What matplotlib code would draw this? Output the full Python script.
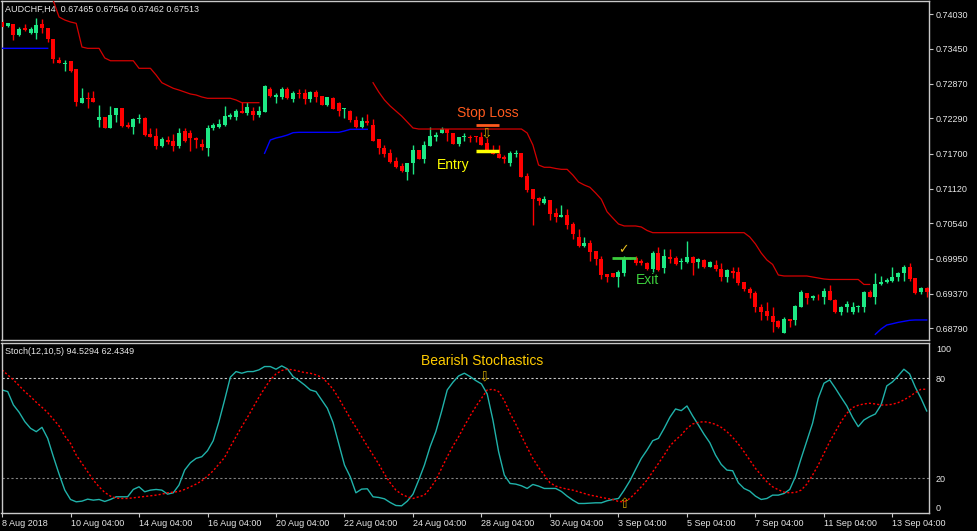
import numpy as np
import matplotlib
matplotlib.use("Agg")
import matplotlib.pyplot as plt

plt.rcParams['font.family'] = ['Liberation Sans', 'DejaVu Sans']

nan = np.nan

# AUDCHF H4 candles (bar 0 = 8 Aug 2018 04:00)
opens = [
    0.73897, 0.73838, 0.73863, 0.73680, 0.73792, 0.73713, 0.73713, 0.73863, 0.73800, 0.73613,
    0.73263, 0.73197, 0.73251, 0.73108, 0.72552, 0.72635, 0.72635, 0.72263, 0.72318, 0.72125,
    0.72347, 0.72458, 0.72180, 0.72151, 0.72275, 0.72292, 0.72030, 0.71997, 0.71830, 0.71930,
    0.71913, 0.71830, 0.72080, 0.72052, 0.71968, 0.71863, 0.71801, 0.72125, 0.72151, 0.72180,
    0.72308, 0.72318, 0.72413, 0.72385, 0.72413, 0.72347, 0.72402, 0.72785, 0.72652, 0.72652,
    0.72785, 0.72608, 0.72718, 0.72708, 0.72608, 0.72735, 0.72668, 0.72513, 0.72635, 0.72541,
    0.72442, 0.72418, 0.72263, 0.72142, 0.72247, 0.72180, 0.71942, 0.71792, 0.71721, 0.71585,
    0.71501, 0.71401, 0.71541, 0.71763, 0.71613, 0.71835, 0.71985, 0.72052, 0.72108, 0.72052,
    0.71863, 0.71975, 0.71985, 0.71997, 0.71985, 0.71875, 0.71751, 0.71697, 0.71641, 0.71551,
    0.71697, 0.71721, 0.71330, 0.71108, 0.70968, 0.70885, 0.70930, 0.70718, 0.70651, 0.70680,
    0.70530, 0.70308, 0.70163, 0.70218, 0.70085, 0.69942, 0.69697, 0.69708, 0.69642, 0.69718,
    0.69958, 0.69958, 0.69913, 0.69885, 0.69775, 0.70040, 0.69790, 0.69975, 0.69958, 0.69897,
    0.69901, 0.69985, 0.69901, 0.69930, 0.69818, 0.69847, 0.69775, 0.69642, 0.69747, 0.69735,
    0.69555, 0.69442, 0.69385, 0.69151, 0.69080, 0.68997, 0.68913, 0.68718, 0.68942, 0.68930,
    0.69151, 0.69385, 0.69292, 0.69330, 0.69318, 0.69413, 0.69263, 0.69068, 0.69151, 0.69068,
    0.69140, 0.69151, 0.69401, 0.69318, 0.69525, 0.69555, 0.69580, 0.69651, 0.69708, 0.69808,
    0.69625, 0.69401, 0.69458,
]
highs = [
    0.73942, 0.73885, 0.73863, 0.73813, 0.73863, 0.73808, 0.73958, 0.73947, 0.73800, 0.73613,
    0.73308, 0.73263, 0.73251, 0.73118, 0.72792, 0.72735, 0.72752, 0.72513, 0.72318, 0.72497,
    0.72468, 0.72458, 0.72235, 0.72292, 0.72363, 0.72318, 0.72125, 0.72125, 0.71985, 0.71997,
    0.72030, 0.72125, 0.72135, 0.72097, 0.71985, 0.71942, 0.72180, 0.72218, 0.72280, 0.72497,
    0.72385, 0.72452, 0.72568, 0.72568, 0.72485, 0.72497, 0.72842, 0.72808, 0.72708, 0.72818,
    0.72808, 0.72752, 0.72775, 0.72775, 0.72752, 0.72763, 0.72668, 0.72652, 0.72652, 0.72563,
    0.72458, 0.72430, 0.72330, 0.72318, 0.72363, 0.72275, 0.71942, 0.71847, 0.71775, 0.71651,
    0.71541, 0.71541, 0.71847, 0.71763, 0.71918, 0.72151, 0.72068, 0.72151, 0.72108, 0.72052,
    0.71985, 0.72052, 0.72013, 0.71997, 0.72068, 0.71958, 0.71847, 0.71847, 0.71680, 0.71751,
    0.71763, 0.71721, 0.71385, 0.71108, 0.70985, 0.70997, 0.70930, 0.70791, 0.70847, 0.70775,
    0.70568, 0.70442, 0.70308, 0.70263, 0.70085, 0.69997, 0.69697, 0.69708, 0.69763, 0.69997,
    0.69980, 0.69997, 0.69942, 0.69897, 0.70080, 0.70151, 0.70118, 0.70118, 0.69997, 0.69967,
    0.70247, 0.69997, 0.69958, 0.69951, 0.69918, 0.69930, 0.69885, 0.69775, 0.69818, 0.69818,
    0.69555, 0.69485, 0.69413, 0.69197, 0.69235, 0.69151, 0.68930, 0.68985, 0.68942, 0.69180,
    0.69430, 0.69385, 0.69347, 0.69363, 0.69458, 0.69513, 0.69275, 0.69163, 0.69251, 0.69235,
    0.69180, 0.69418, 0.69430, 0.69708, 0.69663, 0.69625, 0.69808, 0.69735, 0.69847, 0.69875,
    0.69625, 0.69485, 0.69485,
]
lows = [
    0.73805, 0.73818, 0.73597, 0.73663, 0.73751, 0.73697, 0.73608, 0.73708, 0.73568, 0.73208,
    0.73208, 0.73080, 0.73068, 0.72497, 0.72552, 0.72458, 0.72568, 0.72151, 0.72125, 0.72125,
    0.72235, 0.72151, 0.72125, 0.72025, 0.72218, 0.71997, 0.71975, 0.71775, 0.71818, 0.71863,
    0.71747, 0.71792, 0.71902, 0.71751, 0.71792, 0.71763, 0.71663, 0.72097, 0.72135, 0.72163,
    0.72285, 0.72263, 0.72385, 0.72347, 0.72263, 0.72318, 0.72402, 0.72642, 0.72541, 0.72608,
    0.72608, 0.72568, 0.72625, 0.72530, 0.72568, 0.72568, 0.72513, 0.72502, 0.72447, 0.72330,
    0.72292, 0.72235, 0.72125, 0.72125, 0.72180, 0.71918, 0.71697, 0.71651, 0.71541, 0.71468,
    0.71401, 0.71263, 0.71363, 0.71613, 0.71541, 0.71835, 0.71918, 0.72041, 0.71918, 0.71863,
    0.71835, 0.71918, 0.71902, 0.71902, 0.71847, 0.71751, 0.71691, 0.71625, 0.71541, 0.71497,
    0.71641, 0.71318, 0.71068, 0.70513, 0.70847, 0.70863, 0.70597, 0.70568, 0.70651, 0.70442,
    0.70275, 0.70151, 0.70142, 0.69918, 0.69843, 0.69605, 0.69555, 0.69642, 0.69485, 0.69663,
    0.69940, 0.69847, 0.69847, 0.69763, 0.69735, 0.69751, 0.69718, 0.69875, 0.69847, 0.69780,
    0.69875, 0.69680, 0.69790, 0.69790, 0.69808, 0.69751, 0.69585, 0.69555, 0.69625, 0.69513,
    0.69413, 0.69292, 0.69068, 0.68930, 0.68930, 0.68735, 0.68792, 0.68708, 0.68818, 0.68847,
    0.69151, 0.69197, 0.69263, 0.69263, 0.69197, 0.69263, 0.69042, 0.69013, 0.69068, 0.69030,
    0.69068, 0.69068, 0.69308, 0.69197, 0.69513, 0.69542, 0.69555, 0.69572, 0.69572, 0.69572,
    0.69363, 0.69363, 0.69308,
]
closes = [
    0.73813, 0.73872, 0.73685, 0.73780, 0.73763, 0.73775, 0.73842, 0.73792, 0.73608, 0.73280,
    0.73218, 0.73218, 0.73080, 0.72568, 0.72635, 0.72613, 0.72568, 0.72318, 0.72125, 0.72347,
    0.72468, 0.72163, 0.72142, 0.72275, 0.72302, 0.72013, 0.71985, 0.71830, 0.71942, 0.71902,
    0.71830, 0.72052, 0.71918, 0.71968, 0.71930, 0.71818, 0.72135, 0.72180, 0.72192, 0.72330,
    0.72342, 0.72418, 0.72385, 0.72485, 0.72347, 0.72413, 0.72830, 0.72663, 0.72680, 0.72780,
    0.72625, 0.72708, 0.72697, 0.72613, 0.72735, 0.72652, 0.72513, 0.72642, 0.72447, 0.72413,
    0.72458, 0.72263, 0.72142, 0.72247, 0.72208, 0.71918, 0.71792, 0.71697, 0.71558, 0.71485,
    0.71413, 0.71541, 0.71763, 0.71613, 0.71847, 0.71997, 0.72018, 0.72108, 0.72041, 0.71863,
    0.71985, 0.71997, 0.71958, 0.71975, 0.71847, 0.71763, 0.71691, 0.71625, 0.71608, 0.71708,
    0.71721, 0.71318, 0.71097, 0.70942, 0.70918, 0.70942, 0.70697, 0.70651, 0.70680, 0.70513,
    0.70363, 0.70163, 0.70218, 0.70068, 0.69942, 0.69680, 0.69651, 0.69642, 0.69735, 0.69958,
    0.69965, 0.69875, 0.69875, 0.69775, 0.70051, 0.69763, 0.69997, 0.69942, 0.69858, 0.69908,
    0.69985, 0.69885, 0.69942, 0.69818, 0.69901, 0.69775, 0.69642, 0.69763, 0.69718, 0.69542,
    0.69442, 0.69375, 0.69151, 0.69068, 0.68997, 0.68902, 0.68808, 0.68942, 0.68918, 0.69163,
    0.69401, 0.69292, 0.69335, 0.69325, 0.69418, 0.69263, 0.69068, 0.69151, 0.69190, 0.69151,
    0.69163, 0.69401, 0.69318, 0.69530, 0.69555, 0.69597, 0.69651, 0.69708, 0.69808, 0.69605,
    0.69375, 0.69458, 0.69401,
]

# trailing stop: red above price (down trend), blue below price (up trend)
stop_upper = [
    nan, nan, nan, nan, nan, nan, nan, nan, nan, 0.74247,
    0.73980, 0.73930, 0.73897, 0.73875, 0.73480, 0.73458, 0.73458, 0.73458, 0.73297, 0.73251,
    0.73251, 0.73251, 0.73251, 0.73251, 0.73125, 0.73125, 0.73125, 0.73013, 0.72885, 0.72838,
    0.72792, 0.72763, 0.72730, 0.72697, 0.72680, 0.72647, 0.72625, 0.72625, 0.72625, 0.72625,
    0.72625, 0.72597, 0.72552, 0.72552, 0.72552, 0.72552, nan, nan, nan, nan,
    nan, nan, nan, nan, nan, nan, nan, nan, nan, nan,
    nan, nan, nan, nan, nan, 0.72885, 0.72730, 0.72597, 0.72497, 0.72413,
    0.72330, 0.72230, 0.72130, 0.72113, 0.72113, 0.72113, 0.72113, 0.72113, 0.72113, 0.72113,
    0.72113, 0.72113, 0.72113, 0.72113, 0.72113, 0.72113, 0.72113, 0.72113, 0.72113, 0.72113,
    0.72113, 0.72113, 0.72047, 0.71847, 0.71513, 0.71475, 0.71475, 0.71455, 0.71441, 0.71441,
    0.71346, 0.71230, 0.71180, 0.71141, 0.71046, 0.70941, 0.70734, 0.70630, 0.70530, 0.70497,
    0.70497, 0.70497, 0.70480, 0.70422, 0.70385, 0.70385, 0.70385, 0.70385, 0.70385, 0.70385,
    0.70385, 0.70385, 0.70385, 0.70385, 0.70385, 0.70385, 0.70385, 0.70385, 0.70385, 0.70385,
    0.70385, 0.70313, 0.70197, 0.70047, 0.69930, 0.69856, 0.69680, 0.69663, 0.69663, 0.69663,
    0.69663, 0.69663, 0.69646, 0.69630, 0.69613, 0.69605, 0.69605, 0.69605, 0.69605, 0.69605,
    0.69605, 0.69522, 0.69522, nan, nan, nan, nan, nan, nan, nan,
    nan, nan, nan,
]
stop_lower = [
    0.73458, 0.73458, 0.73458, 0.73458, 0.73458, 0.73458, 0.73458, 0.73458, 0.73458, nan,
    nan, nan, nan, nan, nan, nan, nan, nan, nan, nan,
    nan, nan, nan, nan, nan, nan, nan, nan, nan, nan,
    nan, nan, nan, nan, nan, nan, nan, nan, nan, nan,
    nan, nan, nan, nan, nan, nan, 0.71708, 0.71930, 0.71963, 0.71985,
    0.72013, 0.72052, 0.72058, 0.72058, 0.72058, 0.72058, 0.72058, 0.72058, 0.72058, 0.72058,
    0.72080, 0.72108, 0.72108, 0.72108, 0.72108, nan, nan, nan, nan, nan,
    nan, nan, nan, nan, nan, nan, nan, nan, nan, nan,
    nan, nan, nan, nan, nan, nan, nan, nan, nan, nan,
    nan, nan, nan, nan, nan, nan, nan, nan, nan, nan,
    nan, nan, nan, nan, nan, nan, nan, nan, nan, nan,
    nan, nan, nan, nan, nan, nan, nan, nan, nan, nan,
    nan, nan, nan, nan, nan, nan, nan, nan, nan, nan,
    nan, nan, nan, nan, nan, nan, nan, nan, nan, nan,
    nan, nan, nan, nan, nan, nan, nan, nan, nan, nan,
    nan, nan, nan, 0.68691, 0.68779, 0.68846, 0.68867, 0.68890, 0.68907, 0.68924,
    0.68930, 0.68930, 0.68930,
]

# Stoch(12,10,5)
stoch_main = [
    72.9, 71.9, 63.9, 59.5, 53.9, 49.9, 47.9, 50.5, 43.9, 32.9,
    22.5, 12.9, 7.3, 5.9, 6.3, 7.5, 6.9, 7.3, 6.1, 7.3,
    8.9, 8.9, 8.9, 13.3, 14.9, 11.9, 12.9, 13.3, 12.9, 10.5,
    11.3, 15.9, 24.9, 29.3, 31.9, 32.9, 36.5, 42.5, 53.9, 66.9,
    80.5, 83.9, 82.9, 83.9, 83.9, 84.9, 86.9, 86.9, 85.3, 87.3,
    85.5, 80.9, 78.5, 75.9, 72.9, 71.9, 66.9, 61.9, 53.3, 40.5,
    27.9, 20.9, 11.3, 13.5, 13.7, 8.9, 8.5, 7.7, 5.5, 3.7,
    3.5, 6.3, 10.5, 18.9, 27.9, 38.9, 47.9, 59.9, 72.9, 77.5,
    81.3, 82.9, 80.9, 78.5, 76.5, 70.5, 54.9, 35.9, 21.9, 16.9,
    16.5, 15.5, 13.9, 16.3, 15.3, 13.9, 13.9, 13.9, 12.1, 9.3,
    6.9, 4.9, 4.9, 5.1, 5.3, 5.3, 6.5, 7.3, 7.9, 12.9,
    18.5, 25.3, 31.9, 36.9, 42.5, 43.9, 49.9, 56.5, 61.5, 60.5,
    63.3, 57.3, 51.9, 46.3, 41.3, 33.9, 28.3, 24.9, 24.5, 17.3,
    13.9, 12.3, 9.3, 7.3, 7.9, 9.9, 9.9, 10.9, 13.3, 20.9,
    31.9, 42.5, 52.9, 67.9, 76.9, 78.9, 73.9, 68.5, 63.3, 56.5,
    50.9, 54.9, 56.9, 58.5, 63.9, 75.3, 77.7, 81.3, 85.3, 82.5,
    74.5, 67.9, 60.3,
]
stoch_signal = [
    84.9, 81.9, 78.9, 75.5, 71.9, 68.9, 65.5, 62.5, 59.3, 55.3,
    51.3, 45.3, 40.9, 33.9, 28.9, 23.9, 18.9, 14.9, 11.5, 9.3,
    8.1, 7.9, 7.9, 8.3, 8.7, 9.1, 9.5, 9.9, 10.5, 11.3,
    11.7, 12.1, 13.3, 14.9, 16.5, 18.5, 21.3, 24.5, 28.5, 32.5,
    38.9, 44.9, 50.9, 56.5, 62.5, 68.5, 73.9, 78.9, 82.5, 84.5,
    85.3, 84.9, 84.1, 83.3, 82.9, 81.9, 80.5, 77.3, 73.3, 67.9,
    61.9, 55.9, 50.5, 44.9, 39.3, 33.9, 28.5, 22.5, 17.3, 12.9,
    10.5, 8.9, 7.9, 8.9, 9.9, 13.9, 18.9, 25.9, 32.9, 39.3,
    44.9, 51.3, 57.3, 62.9, 67.9, 72.9, 73.3, 71.9, 66.5, 58.9,
    52.5, 45.3, 38.5, 31.9, 26.5, 21.9, 17.3, 15.3, 14.3, 13.5,
    12.9, 11.9, 10.9, 9.9, 9.3, 8.5, 7.9, 7.3, 6.1, 5.9,
    7.9, 11.3, 14.9, 18.9, 23.9, 28.9, 33.9, 39.3, 42.9, 45.9,
    49.9, 52.5, 53.5, 53.9, 53.3, 52.3, 50.5, 47.9, 44.5, 40.5,
    35.9, 30.9, 25.9, 21.9, 17.9, 14.9, 13.1, 11.7, 11.3, 11.5,
    12.9, 16.5, 21.9, 27.9, 34.9, 41.9, 47.9, 53.9, 58.9, 62.3,
    63.7, 64.5, 64.9, 64.5, 63.9, 63.9, 64.3, 65.3, 66.9, 68.9,
    71.3, 73.3, 73.3,
]

date_labels = ["8 Aug 2018", "10 Aug 04:00", "14 Aug 04:00", "16 Aug 04:00",
               "20 Aug 04:00", "22 Aug 04:00", "24 Aug 04:00", "28 Aug 04:00",
               "30 Aug 04:00", "3 Sep 04:00", "5 Sep 04:00", "7 Sep 04:00",
               "11 Sep 04:00", "13 Sep 04:00"]
price_ticks = [0.74030, 0.73450, 0.72870, 0.72290, 0.71700,
               0.71120, 0.70540, 0.69950, 0.69370, 0.68790]
stoch_levels = [0, 20, 80, 100]

bull = "#1de884"
bear = "#ff0000"
fg = "#c8c8c8"

W, H = 977.0, 531.0
fig = plt.figure(figsize=(W / 100, H / 100), dpi=100, facecolor="black")
ax = fig.add_axes([1.5 / W, 1 - 340 / H, 927.5 / W, 339 / H], facecolor="black")
ax2 = fig.add_axes([1.5 / W, 1 - 513 / H, 927.5 / W, 170 / H], facecolor="black")

o = np.array(opens)
h = np.array(highs)
l = np.array(lows)
c = np.array(closes)
x = np.arange(len(c))
cols = np.where(c >= o, bull, bear)

# candles
ax.vlines(x, l, h, colors=cols, linewidth=1, zorder=2)
ax.bar(x, np.maximum(np.abs(c - o), 0.00012), bottom=np.minimum(o, c),
       width=0.7, color=cols, linewidth=0, zorder=3)

# trailing stop lines
ax.plot(x, stop_upper, color="#d40000", lw=0.9, zorder=4)
ax.plot(x, stop_lower, color="#0000ff", lw=1.0, zorder=4)

# annotations
ax.text(85.1, 0.72380, "Stop Loss", color="#ff5a1e", fontsize=10, ha="center", va="center")
ax.plot([83.0, 87.1], [0.72180, 0.72180], color="#ff5a1e", lw=2, solid_capstyle="butt")
ax.text(84.8, 0.72035, "\u21e9", color="#c8a000", fontsize=10, ha="center", va="center",
        family=["DejaVu Sans"], zorder=5)
ax.plot([83.0, 87.1], [0.71751, 0.71751], color="#ffff00", lw=2.5, solid_capstyle="butt", zorder=5)
ax.text(79.0, 0.71513, "Entry", color="#ffff00", fontsize=10, ha="center", va="center")
ax.text(108.9, 0.70100, "\u2713", color="#e8c020", fontsize=9, ha="center", va="center",
        family=["DejaVu Sans"])
ax.plot([106.9, 111.0], [0.69967, 0.69967], color="#3ccc3c", lw=2, solid_capstyle="butt", zorder=5)
ax.text(113.0, 0.69596, "Exit", color="#3ccc3c", fontsize=10, ha="center", va="center")

ax.set_xlim(-0.09, 162.4)
ax.set_ylim(0.68596, 0.74247)
ax.set_xticks([])
ax.yaxis.tick_right()
ax.set_yticks(price_ticks)
ax.set_yticklabels([f"{p:.5f}" for p in price_ticks])
ax.tick_params(axis="y", colors=fg, labelcolor="#e6e6e6", labelsize=6.5, length=3, pad=2)
for s in ax.spines.values():
    s.set_color(fg)
    s.set_linewidth(1)

# stochastic window
ax2.axhline(80, color="#c8c8c8", lw=0.8, ls=(0, (2, 2)))
ax2.axhline(20, color="#808080", lw=0.8, ls=(0, (2, 2)))
ax2.plot(x, stoch_main, color="#20b2aa", lw=1)
ax2.plot(x, stoch_signal, color="#ff0000", lw=1, ls=(0, (1.5, 1.5)))
ax2.text(84.1, 90.5, "Bearish Stochastics", color="#ffcc00", fontsize=10, ha="center", va="center")
ax2.text(84.6, 80.9, "\u21e9", color="#c8a000", fontsize=10, ha="center", va="center",
         family=["DejaVu Sans"])
ax2.text(109.0, 4.4, "\u21e7", color="#c8a000", fontsize=10, ha="center", va="center",
         family=["DejaVu Sans"])

ax2.set_xlim(-0.09, 162.4)
ax2.set_ylim(-0.8, 101)
ax2.set_xticks(np.arange(len(date_labels)) * 12)
ax2.set_xticklabels(date_labels, ha="left")
ax2.tick_params(axis="x", colors=fg, labelcolor="#e6e6e6", labelsize=6.5, length=3, pad=1.5)
ax2.yaxis.tick_right()
ax2.set_yticks([2.3, 20, 80, 97.6])
ax2.set_yticklabels([str(v) for v in stoch_levels])
ax2.tick_params(axis="y", colors=fg, labelcolor="#e6e6e6", labelsize=6.5, length=0, pad=5)
for s in ax2.spines.values():
    s.set_color(fg)
    s.set_linewidth(1)

fig.text(5 / W, 1 - 9 / H, "AUDCHF,H4  0.67465 0.67564 0.67462 0.67513",
         color="#e6e6e6", fontsize=6.5, ha="left", va="center")
fig.text(5 / W, 1 - 351 / H, "Stoch(12,10,5) 94.5294 62.4349",
         color="#e6e6e6", fontsize=6.5, ha="left", va="center")

fig.savefig("out.png", dpi=100, facecolor="black")
